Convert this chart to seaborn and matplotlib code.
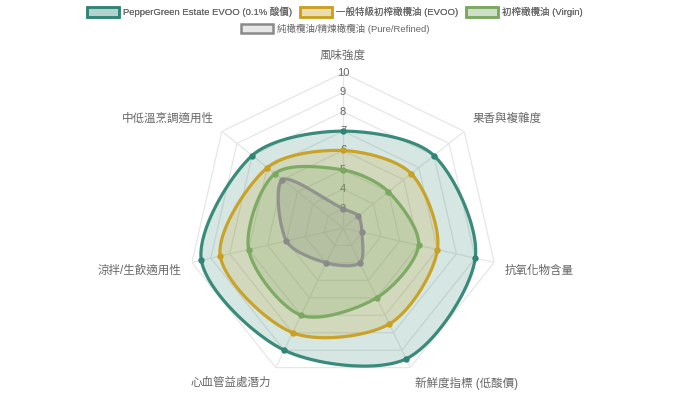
import numpy as np
import seaborn as sns
import matplotlib.pyplot as plt
from matplotlib.colors import to_rgba
from matplotlib.patches import Patch

sns.set_theme(style="white")
plt.rcParams['font.family'] = ['Liberation Sans', 'Noto Sans CJK TC', 'DejaVu Sans']

# data
axis_labels = ['風味強度', '果香與複雜度', '抗氧化物含量', '新鮮度指標 (低酸價)',
               '心血管益處潛力', '涼拌/生飲適用性', '中低溫烹調適用性']
series_names = ['PepperGreen Estate EVOO (0.1% 酸價)', '一般特級初榨橄欖油 (EVOO)',
                '初榨橄欖油 (Virgin)', '純橄欖油/精煉橄欖油 (Pure/Refined)']
peppergreen = [7, 8, 9, 9.5, 9, 9.5, 8]
evoo = [6, 6.5, 7, 7.5, 8, 8.5, 7]
virgin = [5, 5, 6, 6, 7, 7, 6.5]
refined = [3, 3, 3, 4, 4, 5, 6]
tick_values = [3, 4, 5, 6, 7, 8, 9, 10]
r_min, r_max = 2, 10

colors = ['#2f8575', '#c9a020', '#7aa860', '#8a8a8a']
all_series = [peppergreen, evoo, virgin, refined]

n = len(axis_labels)
theta = np.arange(n) * 2 * np.pi / n


def smooth_closed(values, tension=0.3, steps=40):
    # chart.js style spline through the points (done in cartesian space)
    rad = np.array(values, dtype=float) - r_min
    pts = np.column_stack([rad * np.sin(theta), rad * np.cos(theta)])
    cp_prev = np.zeros_like(pts)
    cp_next = np.zeros_like(pts)
    for i in range(n):
        p0, p1, p2 = pts[i - 1], pts[i], pts[(i + 1) % n]
        d01 = np.hypot(*(p1 - p0))
        d12 = np.hypot(*(p2 - p1))
        s01 = d01 / (d01 + d12)
        s12 = d12 / (d01 + d12)
        cp_prev[i] = p1 - tension * s01 * (p2 - p0)
        cp_next[i] = p1 + tension * s12 * (p2 - p0)
    t = np.linspace(0, 1, steps, endpoint=False)[:, None]
    segs = []
    for i in range(n):
        a, b, c, d = pts[i], cp_next[i], cp_prev[(i + 1) % n], pts[(i + 1) % n]
        segs.append((1 - t) ** 3 * a + 3 * (1 - t) ** 2 * t * b + 3 * (1 - t) * t ** 2 * c + t ** 3 * d)
    xy = np.vstack(segs + [pts[:1]])
    th = np.arctan2(xy[:, 0], xy[:, 1])
    r = np.hypot(xy[:, 0], xy[:, 1]) + r_min
    return th, r


fig = plt.figure(figsize=(6.88, 3.99), dpi=100)
ax = fig.add_axes([0.2733, 0.0401, 0.4506, 0.777], projection='polar')
ax.set_theta_zero_location('N')
ax.set_theta_direction(-1)
ax.set_ylim(r_min, r_max)
ax.grid(False)
ax.spines['polar'].set_visible(False)
ax.set_xticks([])
ax.set_yticks([])
ax.set_facecolor('white')

# polygon grid + spokes
grid_c = '#e6e6e6'
th_closed = np.append(theta, theta[0])
for v in tick_values:
    ax.plot(th_closed, [v] * (n + 1), color=grid_c, lw=0.9, zorder=1)
for t in theta:
    ax.plot([t, t], [r_min, r_max], color=grid_c, lw=0.9, zorder=1)

# tick labels (drawn under the datasets)
for v in tick_values:
    ax.text(0, v, str(v), ha='center', va='center', fontsize=8, color='#666666', zorder=2)

# datasets
for vals, col in zip(all_series, colors):
    th, r = smooth_closed(vals)
    ax.fill(th, r, color=col, alpha=0.2, lw=0, zorder=3)
    ax.plot(th, r, color=col, lw=2.3, zorder=4, alpha=0.95 if col != '#8a8a8a' else 0.85)
    ax.plot(theta, vals, 'o', color=col, markersize=3.6, zorder=5)

# point labels
align = [('center', 'bottom'), ('left', 'bottom'), ('left', 'top'), ('left', 'top'),
         ('right', 'top'), ('right', 'top'), ('right', 'bottom')]
for t, lab, (ha, va) in zip(theta, axis_labels, align):
    ax.text(t, 10.55, lab, ha=ha, va=va, fontsize=8.3, color='#666666', clip_on=False)

# legend: 3 items on first row, 1 on second
handles = [Patch(facecolor=to_rgba(c, 0.2), edgecolor=c, lw=1.8) for c in colors]

leg_kw = dict(frameon=False, fontsize=6.8, handlelength=3.4, handleheight=1.1,
              handletextpad=0.45, columnspacing=0.8, borderpad=0, labelcolor='#666666')
leg1 = fig.legend(handles[:3], series_names[:3], loc='center', ncol=3,
                  bbox_to_anchor=(0.487, 0.970), **leg_kw)
fig.add_artist(leg1)
fig.legend(handles[3:], series_names[3:], loc='center', ncol=1,
           bbox_to_anchor=(0.487, 0.927), **leg_kw)

fig.savefig('out.png', dpi=100)
